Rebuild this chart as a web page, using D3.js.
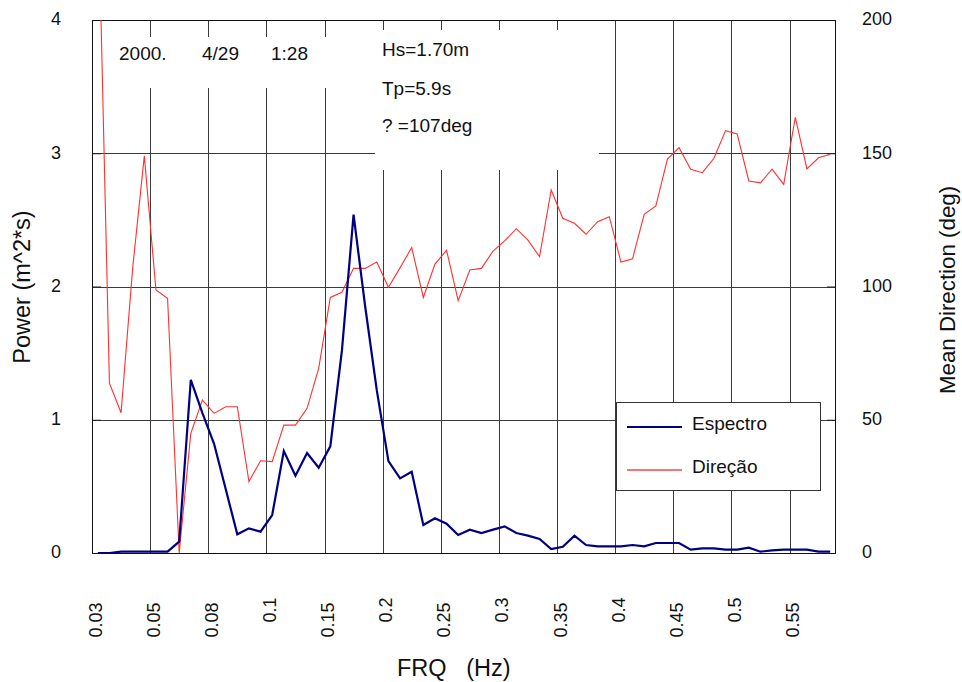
<!DOCTYPE html>
<html>
<head>
<meta charset="utf-8">
<script src="https://cdn.jsdelivr.net/npm/d3@7"></script>
<style>
  html, body { margin: 0; padding: 0; background: #fff; }
  svg { display: block; font-family: Arial, "Liberation Sans", sans-serif; }
</style>
</head>
<body>
<svg id="chart" width="962" height="682"></svg>
<script>
// ---- data ----
const freqTickLabels = ["0.03","0.05","0.08","0.1","0.15","0.2","0.25","0.3","0.35","0.4","0.45","0.5","0.55"];
const power = [0.00,0.00,0.01,0.01,0.01,0.01,0.01,0.085,1.30,1.05,
               0.82,0.48,0.14,0.185,0.16,0.285,0.765,0.58,0.75,0.64,
               0.80,1.52,2.54,1.85,1.22,0.69,0.56,0.61,0.21,0.26,
               0.22,0.135,0.175,0.15,0.175,0.20,0.15,0.13,0.105,0.03,
               0.047,0.13,0.06,0.05,0.05,0.05,0.06,0.05,0.075,0.075,
               0.075,0.025,0.035,0.035,0.025,0.025,0.04,0.01,0.02,0.025,
               0.025,0.025,0.01,0.01];
const direction = [252,63.7,52.6,107,149,98.7,95.6,0,44.9,57.4,
                   52.4,54.9,54.9,26.8,34.6,34.3,48.0,48.0,54.3,69.3,
                   95.9,97.8,106.8,106.8,109.2,99.7,107,114.6,95.9,108.4,
                   113.6,94.7,106.2,106.8,113.3,117.1,121.7,117.4,111.2,136.2,
                   125.6,123.7,119.6,124.3,126.2,109.2,110.4,127.1,130.2,147.8,
                   152.1,144.0,142.7,148.1,158.5,157.2,139.6,138.9,144.0,138.3,
                   163.5,144.1,148.3,149.6];
const powerTicks = [0,1,2,3,4];
const directionTicks = [0,50,100,150,200];
const seriesNames = ["Espectro","Direção"];
const infoDate = ["2000.","4/29","1:28"];
const infoStats = ["Hs=1.70m","Tp=5.9s","? =107deg"];

// ---- layout ----
const L = 92, R = 836, T = 20, B = 553;
const nBins = power.length;
const svg = d3.select("#chart");
const x = d3.scaleLinear().domain([0, nBins]).range([L, R]);
const yP = d3.scaleLinear().domain([0, 4]).range([B, T]);
const yD = d3.scaleLinear().domain([0, 200]).range([B, T]);
const tickIdx = freqTickLabels.map((d, i) => i * 5);

const gridColor = "#3a3a3a";
// grid
const grid = svg.append("g").attr("shape-rendering", "crispEdges");
grid.selectAll("line.v").data(tickIdx.slice(1)).join("line")
  .attr("x1", d => Math.round(x(d)) + 0.5).attr("x2", d => Math.round(x(d)) + 0.5)
  .attr("y1", T).attr("y2", B).attr("stroke", gridColor).attr("stroke-width", 1);
grid.selectAll("line.h").data(powerTicks.slice(1, -1)).join("line")
  .attr("x1", L).attr("x2", R)
  .attr("y1", d => Math.round(yP(d)) + 0.5).attr("y2", d => Math.round(yP(d)) + 0.5)
  .attr("stroke", gridColor).attr("stroke-width", 1);

// axes (ticks inward)
const axL = svg.append("g").attr("transform", `translate(${L},0)`)
  .call(d3.axisLeft(yP).tickValues(powerTicks).tickSize(-9).tickPadding(31).tickFormat(d3.format("d")));
const axR = svg.append("g").attr("transform", `translate(${R},0)`)
  .call(d3.axisRight(yD).tickValues(directionTicks).tickSize(-9).tickPadding(26).tickFormat(d3.format("d")));
const axB = svg.append("g").attr("transform", `translate(0,${B})`)
  .call(d3.axisBottom(x).tickValues(tickIdx).tickSize(0).tickFormat((d, i) => freqTickLabels[i]));
[axL, axR, axB].forEach(a => {
  a.select(".domain").remove();
  a.selectAll("text").attr("font-size", 18).attr("fill", "#111").attr("font-family", "Arial, 'Liberation Sans', sans-serif");
  a.selectAll("line").attr("stroke", "#222");
});
axB.selectAll(".tick text")
  .attr("text-anchor", "middle").attr("dominant-baseline", "central").attr("dy", null)
  .attr("y", 0)
  .attr("transform", function(d, i) {
    const len = freqTickLabels[i].length;
    const cy = (len <= 3 ? 57 : 67);
    return `translate(3,${cy}) rotate(-90)`;
  });
axL.selectAll(".tick text").attr("dy", "0.33em").attr("y", -1);
axR.selectAll(".tick text").attr("dy", "0.33em").attr("y", -1);

// white annotation boxes (hide grid behind texts)
svg.append("rect").attr("x", 105).attr("y", 37).attr("width", 270).attr("height", 51).attr("fill", "#fff");
svg.append("rect").attr("x", 375).attr("y", 30).attr("width", 224).attr("height", 140).attr("fill", "#fff");

// annotation texts
const dateX = [119, 202, 271];
svg.append("g").selectAll("text").data(infoDate).join("text")
  .attr("x", (d, i) => dateX[i]).attr("y", 60).attr("font-size", 19).attr("fill", "#111").text(d => d);
const statY = [56, 95, 132];
svg.append("g").selectAll("text").data(infoStats).join("text")
  .attr("x", 382).attr("y", (d, i) => statY[i]).attr("font-size", 19).attr("fill", "#111")
  .attr("xml:space", "preserve").style("white-space", "pre").text(d => d);

// plot border
svg.append("rect").attr("x", L + 0.5).attr("y", T + 0.5).attr("width", R - L - 1).attr("height", B - T)
  .attr("fill", "none").attr("stroke", "#111").attr("stroke-width", 1).attr("shape-rendering", "crispEdges");

// clip
svg.append("clipPath").attr("id", "plotclip").append("rect")
  .attr("x", L).attr("y", T).attr("width", R - L).attr("height", B - T + 1);

const redColor = "#ff3030";
const blueColor = "#000080";
const lineD = d3.line().x((d, i) => x(i + 0.5)).y(d => yD(d));
const lineP = d3.line().x((d, i) => x(i + 0.5)).y(d => yP(d));
const series = svg.append("g").attr("clip-path", "url(#plotclip)");
series.append("path").datum(direction).attr("d", lineD)
  .attr("fill", "none").attr("stroke", redColor).attr("stroke-width", 1.1).attr("stroke-linejoin", "miter");
series.append("path").datum(power).attr("d", lineP)
  .attr("fill", "none").attr("stroke", blueColor).attr("stroke-width", 2.2).attr("stroke-linejoin", "miter");

// legend
const lg = svg.append("g");
lg.append("rect").attr("x", 616.5).attr("y", 402.5).attr("width", 204).attr("height", 88)
  .attr("fill", "#fff").attr("stroke", "#333").attr("stroke-width", 1);
const legColors = [blueColor, "#f27878"];
const legW = [2.2, 2];
const legY = [427, 470];
seriesNames.forEach((n, i) => {
  lg.append("line").attr("x1", 627).attr("x2", 682).attr("y1", legY[i]).attr("y2", legY[i])
    .attr("stroke", legColors[i]).attr("stroke-width", legW[i]);
  lg.append("text").attr("x", 692).attr("y", legY[i] + 3).attr("font-size", 19).attr("fill", "#111").text(n);
});

// axis titles
svg.append("text").attr("transform", "translate(30,287) rotate(-90)").attr("text-anchor", "middle")
  .attr("font-size", 23.5).attr("fill", "#111").text("Power (m^2*s)");
svg.append("text").attr("transform", "translate(955,290) rotate(-90)").attr("text-anchor", "middle")
  .attr("font-size", 22.3).attr("fill", "#111").text("Mean Direction (deg)");
svg.append("text").attr("x", 397).attr("y", 676).attr("font-size", 23.5).attr("fill", "#111")
  .attr("xml:space", "preserve").style("white-space", "pre").text("FRQ   (Hz)");
</script>
</body>
</html>
